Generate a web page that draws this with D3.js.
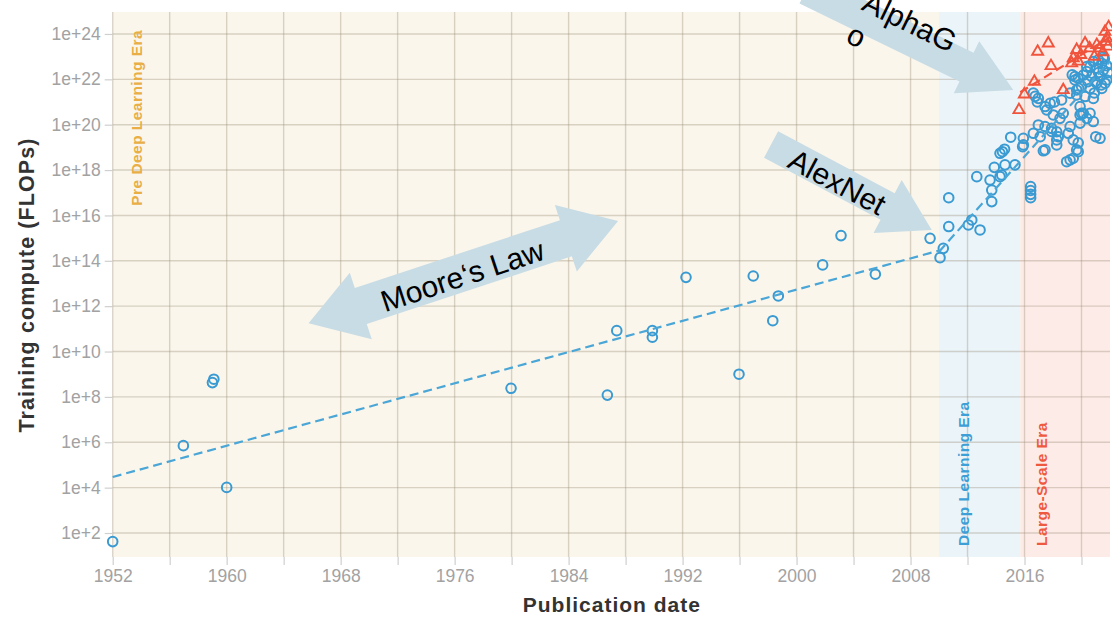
<!DOCTYPE html>
<html>
<head>
<meta charset="utf-8">
<script src="https://cdn.jsdelivr.net/npm/d3@7"></script>
<style>
  html, body { margin: 0; padding: 0; background: #fff; }
  svg { display: block; font-family: "Liberation Sans", Arial, Helvetica, sans-serif; }
</style>
</head>
<body>
<svg id="chart" width="1115" height="619"></svg>
<script>
// ---------------- data ----------------
// Pre deep learning era systems: publication year and log10(training FLOPs)
const preYears    = [1952.0, 1956.96, 1959.0, 1959.1, 1960.0, 1979.96, 1986.72, 1987.38, 1989.88, 1989.88,
                     1992.24, 1995.96, 1996.96, 1998.33, 1998.72, 2001.83, 2003.12, 2005.53, 2009.37];
const preLogFlops = [1.62, 5.85, 8.63, 8.78, 4.01, 8.38, 8.08, 10.92, 10.92, 10.63,
                     13.27, 9.0, 13.33, 11.36, 12.45, 13.82, 15.11, 13.41, 14.99];

// Deep learning era systems (2010 onwards, regular scale)
const dlYears = [
  2010.07, 2010.3, 2010.68, 2010.68, 2012.06, 2012.3, 2012.88, 2012.65,
  2013.7, 2013.7, 2013.58, 2013.88, 2014.28, 2014.4, 2014.63, 2015.33, 2014.28, 2014.45, 2014.6,
  2015.03, 2015.87, 2015.92, 2015.92, 2016.43, 2016.43, 2016.43, 2016.43,
  2017.32, 2018.96, 2019.2, 2019.42, 2019.77, 2021.3,
  2016.62, 2016.75, 2016.97, 2016.9, 2017.44, 2017.56, 2017.8, 2018.02, 2018.49, 2018.6, 2018.72,
  2016.97, 2016.62, 2017.1, 2017.44, 2017.9, 2017.9, 2018.26, 2018.37, 2018.26, 2018.26, 2017.44,
  2019.07, 2019.2, 2019.42, 2019.66, 2019.77,
  2019.9, 2020.0, 2019.9, 2020.37, 2020.6, 2020.83, 2021.0,
  2019.2, 2019.66, 2019.66, 2019.9, 2020.13, 2020.25, 2020.83, 2020.0, 2020.9,
  2019.54, 2019.54, 2019.77, 2020.13, 2020.37, 2020.37, 2020.6, 2020.72, 2020.83, 2021.07, 2021.18,
  2021.42, 2021.53, 2021.53, 2021.3, 2021.65, 2021.07, 2020.6, 2021.42, 2021.77, 2021.2, 2021.6,
  2021.77, 2020.97, 2018.1, 2019.8, 2021.85, 2021.4, 2020.45, 2019.35
];
const dlLogFlops = [
  14.14, 14.55, 15.51, 16.78, 15.58, 15.8, 15.36, 17.71,
  16.61, 17.12, 17.56, 18.12, 17.71, 17.78, 18.23, 18.23, 18.74, 18.81, 18.92,
  19.45, 19.03, 19.4, 19.11, 17.27, 17.1, 16.93, 16.78,
  18.85, 18.37, 18.45, 18.52, 18.81, 19.4,
  21.39, 21.25, 21.16, 21.0, 20.8, 20.65, 20.94, 20.43, 20.28, 21.09, 20.5,
  19.99, 19.62, 19.47, 19.92, 19.84, 19.7, 19.69, 19.47, 19.33, 19.11, 18.89,
  19.62, 19.92, 19.33, 18.89, 19.2,
  20.07, 20.5, 20.43, 20.28, 20.5, 20.14, 19.47,
  21.39, 21.31, 21.53, 20.8, 20.5, 21.24, 21.16, 21.7, 21.4,
  21.97, 22.12, 22.05, 22.19, 22.34, 22.56, 22.56, 22.12, 22.78, 22.49, 22.86,
  22.71, 22.98, 22.41, 22.12, 21.83, 21.83, 21.6, 21.6, 21.97, 22.3, 22.9,
  22.6, 21.9, 21.0, 21.6, 22.3, 21.75, 21.9, 22.2
];

// Large-scale era systems
const lsYears    = [2015.61, 2015.99, 2016.69, 2016.92, 2017.67, 2017.86, 2018.72, 2019.31, 2019.42, 2019.66,
                    2019.77, 2019.95, 2020.25, 2020.57, 2020.9, 2021.07, 2021.3, 2021.5, 2021.65, 2021.72,
                    2021.77, 2021.85, 2021.9];
const lsLogFlops = [20.65, 21.34, 21.9, 23.22, 23.59, 22.59, 21.53, 22.71, 22.94, 23.3,
                    22.79, 23.08, 23.59, 23.37, 23.0, 23.52, 23.37, 23.2, 24.1, 23.66,
                    23.81, 23.45, 24.3];

// Eras
const eraNames  = ["Pre Deep Learning Era", "Deep Learning Era", "Large-Scale Era"];
const eraStarts = [1952, 2010, 2015.7];
const eraEnds   = [2010, 2015.7, 2022];

// Fitted trends per era (year range and log10 FLOPs at both ends)
const trendStartYears = [1952, 2010, 2015.7];
const trendEndYears   = [2010, 2022, 2022];
const trendStartLogs  = [4.47, 14.4, 21.43];
const trendEndLogs    = [14.45, 22.8, 23.86];

// Axis ticks
const yTickExponents = [2, 4, 6, 8, 10, 12, 14, 16, 18, 20, 22, 24];
const xTickYears     = [1952, 1956, 1960, 1964, 1968, 1972, 1976, 1980, 1984, 1988,
                        1992, 1996, 2000, 2004, 2008, 2012, 2016, 2020];
const xLabelYears    = [1952, 1960, 1968, 1976, 1984, 1992, 2000, 2008, 2016];

// Callouts: text lines, the point each arrow refers to (year, log10 FLOPs)
const calloutTexts = [["Moore\u2018s Law"], ["AlexNet"], ["AlphaG", "o"]];
const calloutYears = [1976.61, 2009.49, 2015.21];
const calloutLogs  = [13.5, 15.36, 21.53];

// ---------------- layout & styles ----------------
const plot = { left: 112.7, right: 1110, top: 12, bottom: 557 };
const eraFills  = ["#faf6ec", "#eaf4f9", "#fdebe7"];
const eraInk    = ["#e9ae45", "#3e9fd6", "#ee5a40"];
const blue = "#3a9ad2", red = "#f0543d";

// arrow geometry (pixels, in the arrow's own rotated frame; tip at origin unless double-headed)
const arrowGeom = [
  { angle: -18.3, len: 326, shaft: 19, headLen: 55, headHalf: 35, both: true,  textU: -2,   textN: 3,   anchor: "middle" },
  { angle: 28,    len: 182, shaft: 15, headLen: 50, headHalf: 30, both: false, textU: -106, textN: 2,   anchor: "middle" },
  { angle: 26,    len: 230, shaft: 16, headLen: 52, headHalf: 29, both: false, textU: -173, textN: -16, anchor: "start" }
];

const svg = d3.select("#chart");

const x = d3.scaleLinear().domain([1952, 2022]).range([plot.left, plot.right]);
const y = d3.scaleLog().domain([8.75, 9.3e24]).range([plot.bottom, plot.top]);
const yv = e => y(Math.pow(10, e));

// ---------------- era backgrounds ----------------
svg.append("g").selectAll("rect")
  .data(eraNames)
  .join("rect")
  .attr("x", (d, i) => x(eraStarts[i]))
  .attr("width", (d, i) => x(eraEnds[i]) - x(eraStarts[i]))
  .attr("y", plot.top)
  .attr("height", plot.bottom - plot.top)
  .attr("fill", (d, i) => eraFills[i]);

// ---------------- grid ----------------
const grid = svg.append("g")
  .attr("stroke", "rgba(150,135,110,0.33)")
  .attr("stroke-width", 1.4);
grid.selectAll("line.h")
  .data(yTickExponents)
  .join("line")
  .attr("class", "h")
  .attr("x1", plot.left).attr("x2", plot.right)
  .attr("y1", d => yv(d)).attr("y2", d => yv(d));
grid.selectAll("line.v")
  .data(xTickYears)
  .join("line")
  .attr("class", "v")
  .attr("y1", plot.top).attr("y2", plot.bottom)
  .attr("x1", d => x(d)).attr("x2", d => x(d));

// ---------------- axes ----------------
const axisFont = 17.5, axisInk = "#a2a2a2", tickInk = "#cfcfcf";

const xAxis = svg.append("g")
  .attr("transform", `translate(0,${plot.bottom})`)
  .call(d3.axisBottom(x)
    .tickValues(xTickYears)
    .tickFormat(d => xLabelYears.includes(d) ? String(d) : "")
    .tickSize(8)
    .tickPadding(5));
const yAxis = svg.append("g")
  .attr("transform", `translate(${plot.left},0)`)
  .call(d3.axisLeft(y)
    .tickValues(yTickExponents.map(e => Math.pow(10, e)))
    .tickFormat(d => "1e+" + Math.round(Math.log10(d)))
    .tickSize(8)
    .tickPadding(4));
[xAxis, yAxis].forEach(g => {
  g.select(".domain").remove();
  g.selectAll(".tick line").attr("stroke", tickInk).attr("stroke-width", 1.2);
  g.selectAll(".tick text")
    .attr("fill", axisInk)
    .style("font-size", axisFont + "px")
    .style("font-family", "'Liberation Sans', Arial, sans-serif");
});

// ---------------- points ----------------
svg.append("clipPath").attr("id", "plotClip")
  .append("rect")
  .attr("x", plot.left - 6).attr("y", plot.top - 2)
  .attr("width", plot.right - plot.left + 8).attr("height", plot.bottom - plot.top + 4);

const marks = svg.append("g").attr("clip-path", "url(#plotClip)");

const circleRows = preYears.map((yr, i) => [yr, preLogFlops[i]])
  .concat(dlYears.map((yr, i) => [yr, dlLogFlops[i]]));

marks.append("g").selectAll("circle")
  .data(circleRows)
  .join("circle")
  .attr("cx", d => x(d[0]))
  .attr("cy", d => yv(d[1]))
  .attr("r", 4.8)
  .attr("fill", "none")
  .attr("stroke", blue)
  .attr("stroke-width", 2);

const tri = d3.symbol(d3.symbolTriangle, 52);
marks.append("g").selectAll("path")
  .data(lsYears.map((yr, i) => [yr, lsLogFlops[i]]))
  .join("path")
  .attr("d", tri)
  .attr("transform", d => `translate(${x(d[0])},${yv(d[1])})`)
  .attr("fill", "none")
  .attr("stroke", red)
  .attr("stroke-width", 1.9);

// ---------------- trend lines ----------------
const trendInk = ["#4aa6d6", "#4aa6d6", red];
const line = d3.line().x(d => x(d[0])).y(d => yv(d[1]));
marks.append("g").selectAll("path")
  .data(trendStartYears.map((s, i) => [[s, trendStartLogs[i]], [trendEndYears[i], trendEndLogs[i]]]))
  .join("path")
  .attr("d", line)
  .attr("fill", "none")
  .attr("stroke", (d, i) => trendInk[i])
  .attr("stroke-width", 2.2)
  .attr("stroke-dasharray", "9,5");

// ---------------- era labels ----------------
const eraLabelPos = [
  { x: x(eraStarts[0]) + 29, y: plot.top + 18,     anchor: "end" },
  { x: x(eraStarts[1]) + 30, y: plot.bottom - 11,  anchor: "start" },
  { x: x(eraStarts[2]) + 27, y: plot.bottom - 11,  anchor: "start" }
];
svg.append("g").selectAll("text")
  .data(eraNames)
  .join("text")
  .attr("transform", (d, i) => `translate(${eraLabelPos[i].x},${eraLabelPos[i].y}) rotate(-90)`)
  .attr("text-anchor", (d, i) => eraLabelPos[i].anchor)
  .attr("fill", (d, i) => eraInk[i])
  .style("font-size", "15.5px")
  .style("font-weight", "bold")
  .style("letter-spacing", "0.45px")
  .text(d => d);

// ---------------- axis titles ----------------
svg.append("text")
  .attr("x", (plot.left + plot.right) / 2 + 0.5)
  .attr("y", 612)
  .attr("text-anchor", "middle")
  .attr("fill", "#333")
  .style("font-size", "21px")
  .style("font-weight", "bold")
  .style("letter-spacing", "1px")
  .text("Publication date");

svg.append("text")
  .attr("transform", "translate(34,285) rotate(-90)")
  .attr("text-anchor", "middle")
  .attr("fill", "#333")
  .style("font-size", "21.5px")
  .style("font-weight", "bold")
  .style("letter-spacing", "1.1px")
  .text("Training compute (FLOPs)");

// ---------------- callout arrows ----------------
function arrowPoints(g) {
  if (g.both) {
    const h = g.len / 2;
    return [[h, 0], [h - g.headLen, -g.headHalf], [h - g.headLen, -g.shaft], [-h + g.headLen, -g.shaft],
            [-h + g.headLen, -g.headHalf], [-h, 0], [-h + g.headLen, g.headHalf], [-h + g.headLen, g.shaft],
            [h - g.headLen, g.shaft], [h - g.headLen, g.headHalf]];
  }
  return [[0, 0], [-g.headLen, -g.headHalf], [-g.headLen, -g.shaft], [-g.len, -g.shaft],
          [-g.len, g.shaft], [-g.headLen, g.shaft], [-g.headLen, g.headHalf]];
}

const callouts = svg.append("g").selectAll("g")
  .data(calloutTexts)
  .join("g")
  .attr("transform", (d, i) => `translate(${x(calloutYears[i])},${yv(calloutLogs[i])}) rotate(${arrowGeom[i].angle})`);

callouts.append("polygon")
  .attr("points", (d, i) => arrowPoints(arrowGeom[i]).map(p => p.join(",")).join(" "))
  .attr("fill", "#c8dce5");

callouts.each(function (lines, i) {
  const g = arrowGeom[i];
  const t = d3.select(this).append("text")
    .attr("text-anchor", g.anchor)
    .attr("fill", "#000")
    .style("font-size", "30px")
    .style("font-family", "'Liberation Sans', Arial, sans-serif");
  lines.forEach((s, k) => {
    t.append("tspan")
      .attr("x", g.textU)
      .attr("y", g.textN + k * 36)
      .attr("dy", "0.35em")
      .text(s);
  });
});
</script>
</body>
</html>
